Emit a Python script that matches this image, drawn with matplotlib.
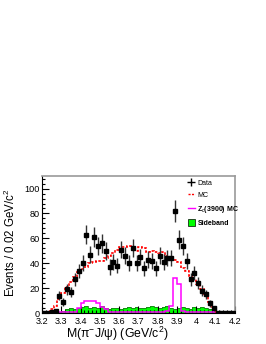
import matplotlib
matplotlib.use("Agg")
from matplotlib import pyplot as plt
from matplotlib.lines import Line2D
from matplotlib.patches import Patch
from matplotlib.ticker import MultipleLocator, FixedLocator, FixedFormatter
import numpy as np

plt.rcParams['font.family'] = ['Liberation Sans', 'DejaVu Sans']
plt.rcParams['mathtext.fontset'] = 'custom'
plt.rcParams['mathtext.rm'] = 'Liberation Sans'
plt.rcParams['mathtext.it'] = 'Liberation Sans:italic'

# binning: 50 bins of 0.02 GeV/c^2 between 3.2 and 4.2
xmin, xmax, nbins = 3.2, 4.2, 50

data_counts = [0, 0, 1, 2, 14, 9, 19, 17, 27, 34,
               40, 63, 47, 61, 54, 56, 50, 37, 41, 38,
               51, 46, 40, 52, 40, 45, 36, 43, 42, 36,
               46, 41, 44, 44, 82, 59, 54, 42, 27, 32,
               24, 18, 15, 8, 4, 0, 0, 0, 0, 0]
data_errs = [0, 0, 1, 1.4, 3.7, 3, 4.4, 4.1, 5.2, 5.8,
             6.3, 7.9, 6.9, 7.8, 7.3, 7.5, 7.1, 6.1, 6.4, 6.2,
             7.1, 6.8, 6.3, 7.2, 6.3, 6.7, 6, 6.6, 6.5, 6,
             6.8, 6.4, 6.6, 6.6, 9.1, 7.7, 7.3, 6.5, 5.2, 5.7,
             4.9, 4.2, 3.9, 2.8, 2, 0, 0, 0, 0, 0]

mc_counts = [0.5, 1, 3, 6, 11, 16, 21, 25, 29, 33,
             35, 37, 40, 41, 42, 42, 44, 46, 48, 51,
             53, 53, 54, 52, 50, 53, 52, 49, 50, 49,
             48, 49, 46, 44, 43, 41, 36, 34, 30, 27,
             23, 19, 14, 9, 4, 1, 0, 0, 0, 0]

zc_counts = [0.5, 0.5, 0.5, 0.5, 0.5, 0.5, 0.5, 0.5, 1, 4,
             8, 10, 10, 10, 8, 5, 3, 1, 1, 1,
             1, 1, 1, 1, 1, 1, 1, 1, 1, 1,
             1, 1, 2, 6, 28, 23, 2, 1, 1, 1,
             1, 1, 1, 1, 1, 0.3, 0.3, 0.3, 0.3, 0.3]

sideband_counts = [1, 1, 0, 2, 1, 2, 3, 4, 3, 4,
                   5, 6, 4, 5, 4, 6, 4, 3, 4, 4,
                   3, 4, 5, 4, 5, 4, 4, 5, 6, 5,
                   4, 5, 6, 4, 3, 4, 5, 4, 3, 5,
                   4, 5, 4, 3, 1, 0, 0, 0, 0, 0]

xticks = [3.2, 3.3, 3.4, 3.5, 3.6, 3.7, 3.8, 3.9, 4.0, 4.1, 4.2]
xticklabels = ["3.2", "3.3", "3.4", "3.5", "3.6", "3.7", "3.8", "3.9", "4", "4.1", "4.2"]

edges = np.linspace(xmin, xmax, nbins + 1)
centers = 0.5 * (edges[:-1] + edges[1:])

fig = plt.figure(figsize=(2.66, 3.44), dpi=100)
fig.subplots_adjust(left=0.158, right=0.883, bottom=0.090, top=0.488)
ax = fig.add_subplot(111)

# sideband (green filled)
ax.stairs(sideband_counts, edges, fill=True, facecolor='#00ff00',
          edgecolor='none', zorder=1)
ax.stairs(sideband_counts, edges, color='#1a7a1a', linewidth=0.6, zorder=1.1)

# Zc(3900) MC
ax.stairs(zc_counts, edges, color='#ff00ff', linewidth=1.1, zorder=2)

# MC
ax.stairs(mc_counts, edges, color='#ff0000', linewidth=1.2,
          linestyle=(0, (1.5, 1.0)), zorder=3)

# data
ax.errorbar(centers, data_counts, yerr=data_errs, fmt='s', color='black',
            ms=2.2, ecolor='#333333', elinewidth=1.0, capsize=0, zorder=4)

ax.set_xlim(xmin, xmax)
ax.set_ylim(0, 110)

ax.xaxis.set_major_locator(FixedLocator(xticks))
ax.xaxis.set_major_formatter(FixedFormatter(xticklabels))
ax.xaxis.set_minor_locator(MultipleLocator(0.02))
ax.yaxis.set_major_locator(MultipleLocator(20))
ax.yaxis.set_minor_locator(MultipleLocator(4))
ax.tick_params(which='both', direction='in', top=False, right=False,
               labelsize=6.6, width=0.8)
ax.tick_params(which='major', length=5)
ax.tick_params(which='minor', length=2.5)
ax.tick_params(axis='x', which='major', pad=3)
ax.tick_params(axis='y', which='major', pad=1.5)

for s in ['top', 'right']:
    ax.spines[s].set_color('#9a9a9a')
    ax.spines[s].set_linewidth(1.2)
for s in ['left', 'bottom']:
    ax.spines[s].set_linewidth(0.8)

fig.text(10 / 266, 1 - 243 / 344, "Events / 0.02 GeV/c$^2$", rotation=90,
         ha='center', va='center', fontsize=8.3)
fig.text(117.5 / 266, 1 - 334 / 344, "M(π$^{-}$J/ψ) (GeV/c$^2$)",
         ha='center', va='center', fontsize=8.8)

handles = [
    Line2D([], [], color='black', marker='+', ms=6, mew=1.0, linestyle='none'),
    Line2D([], [], color='#ff0000', linewidth=1.0, linestyle=(0, (1.5, 1.0))),
    Line2D([], [], color='#ff00ff', linewidth=1.0),
    Patch(facecolor='#00ff00', edgecolor='black', linewidth=0.5),
]
labels = ["Data", "MC", "Z$_c$(3900) MC", "Sideband"]
leg = ax.legend(handles, labels, loc='upper left', frameon=False,
                bbox_to_anchor=(188 / 266, 1 - 179 / 344),
                bbox_transform=fig.transFigure, fontsize=5,
                handlelength=1.0, handleheight=1.2, handletextpad=0.35,
                labelspacing=0.65, borderpad=0, borderaxespad=0)
for t in leg.get_texts()[2:]:
    t.set_fontweight('bold')

fig.savefig("out.png", dpi=100)
